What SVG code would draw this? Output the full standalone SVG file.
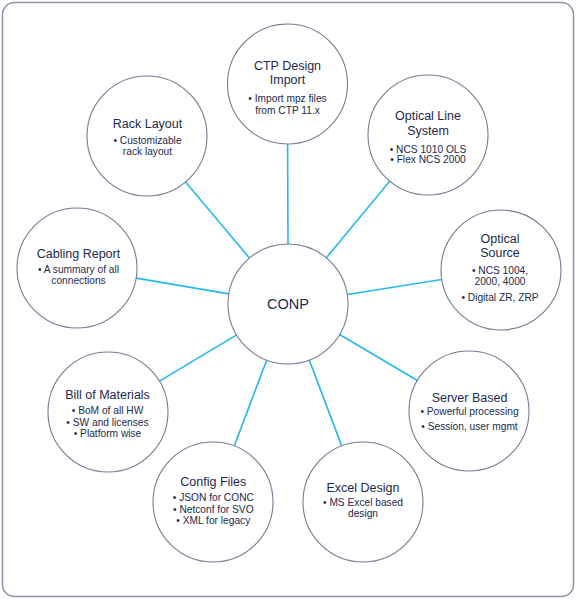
<svg xmlns="http://www.w3.org/2000/svg" width="576" height="600" viewBox="0 0 576 600">
<style>
.frame{fill:#fff;stroke:#8a93a8;stroke-width:1.5}
.node{fill:#fff;stroke:#737c94;stroke-width:1.1}
.conn line{stroke:#27b9ec;stroke-width:1.6}
text{font-family:"Liberation Sans",Arial,sans-serif;fill:#1d2a4d;text-anchor:middle}
.t{font-size:12.5px}
.b{font-size:10.2px}
.c{font-size:14.5px}
</style>
<rect class="frame" x="2.5" y="2.5" width="571" height="594" rx="12"/>
<g id="connectors" class="conn">
<line x1="288" y1="244" x2="287.6" y2="144"/>
<line x1="326.3" y1="257.8" x2="389.7" y2="181.2"/>
<line x1="347.3" y1="294.5" x2="441.7" y2="279.5"/>
<line x1="339.6" y1="334.5" x2="417.4" y2="380.5"/>
<line x1="309.3" y1="360.1" x2="341.7" y2="445.9"/>
<line x1="266.7" y1="360.1" x2="234.3" y2="445.9"/>
<line x1="236.6" y1="334.9" x2="159.5" y2="381.1"/>
<line x1="228.8" y1="293.9" x2="136.2" y2="278.1"/>
<line x1="249.4" y1="258" x2="185.6" y2="182"/>
</g>
<g id="conp">
<circle class="node" cx="288" cy="304" r="60"/>
<text class="c" x="288" y="308.5">CONP</text>
</g>
<g id="ctp">
<circle class="node" cx="287.5" cy="84" r="60"/>
<text class="t" x="287.5" y="70">CTP Design</text>
<text class="t" x="287.5" y="83.5">Import</text>
<text class="b" x="287.5" y="102">• Import mpz files</text>
<text class="b" x="287.5" y="113.5">from CTP 11.x</text>
</g>
<g id="ols">
<circle class="node" cx="428" cy="135" r="60"/>
<text class="t" x="428" y="120">Optical Line</text>
<text class="t" x="428" y="135">System</text>
<text class="b" x="428" y="152.5">• NCS 1010 OLS</text>
<text class="b" x="428" y="163">• Flex NCS 2000</text>
</g>
<g id="optical-source">
<circle class="node" cx="501" cy="270" r="60"/>
<text class="t" x="500" y="243.3">Optical</text>
<text class="t" x="500" y="257.3">Source</text>
<text class="b" x="500" y="274">• NCS 1004,</text>
<text class="b" x="500" y="285">2000, 4000</text>
<text class="b" x="500" y="300.5">• Digital ZR, ZRP</text>
</g>
<g id="server-based">
<circle class="node" cx="469" cy="411" r="60"/>
<text class="t" x="469.5" y="401.5">Server Based</text>
<text class="b" x="469.5" y="415">• Powerful processing</text>
<text class="b" x="469.5" y="430">• Session, user mgmt</text>
</g>
<g id="excel-design">
<circle class="node" cx="363" cy="502" r="60"/>
<text class="t" x="363" y="491.5">Excel Design</text>
<text class="b" x="363" y="506">• MS Excel based</text>
<text class="b" x="363" y="517.3">design</text>
</g>
<g id="config-files">
<circle class="node" cx="213" cy="502" r="60"/>
<text class="t" x="213.3" y="486">Config Files</text>
<text class="b" x="213.3" y="501">• JSON for CONC</text>
<text class="b" x="213.3" y="512.7">• Netconf for SVO</text>
<text class="b" x="213.3" y="524">• XML for legacy</text>
</g>
<g id="bom">
<circle class="node" cx="108" cy="412" r="60"/>
<text class="t" x="107.5" y="399.3">Bill of Materials</text>
<text class="b" x="107.5" y="414">• BoM of all HW</text>
<text class="b" x="107.5" y="425.7">• SW and licenses</text>
<text class="b" x="107.5" y="437.3">• Platform wise</text>
</g>
<g id="cabling-report">
<circle class="node" cx="77" cy="268" r="60"/>
<text class="t" x="78.5" y="257.5">Cabling Report</text>
<text class="b" x="78.5" y="272.7">• A summary of all</text>
<text class="b" x="78.5" y="284">connections</text>
</g>
<g id="rack-layout">
<circle class="node" cx="147" cy="136" r="60"/>
<text class="t" x="147.5" y="127.7">Rack Layout</text>
<text class="b" x="147.5" y="144">• Customizable</text>
<text class="b" x="147.5" y="155">rack layout</text>
</g>
</svg>
